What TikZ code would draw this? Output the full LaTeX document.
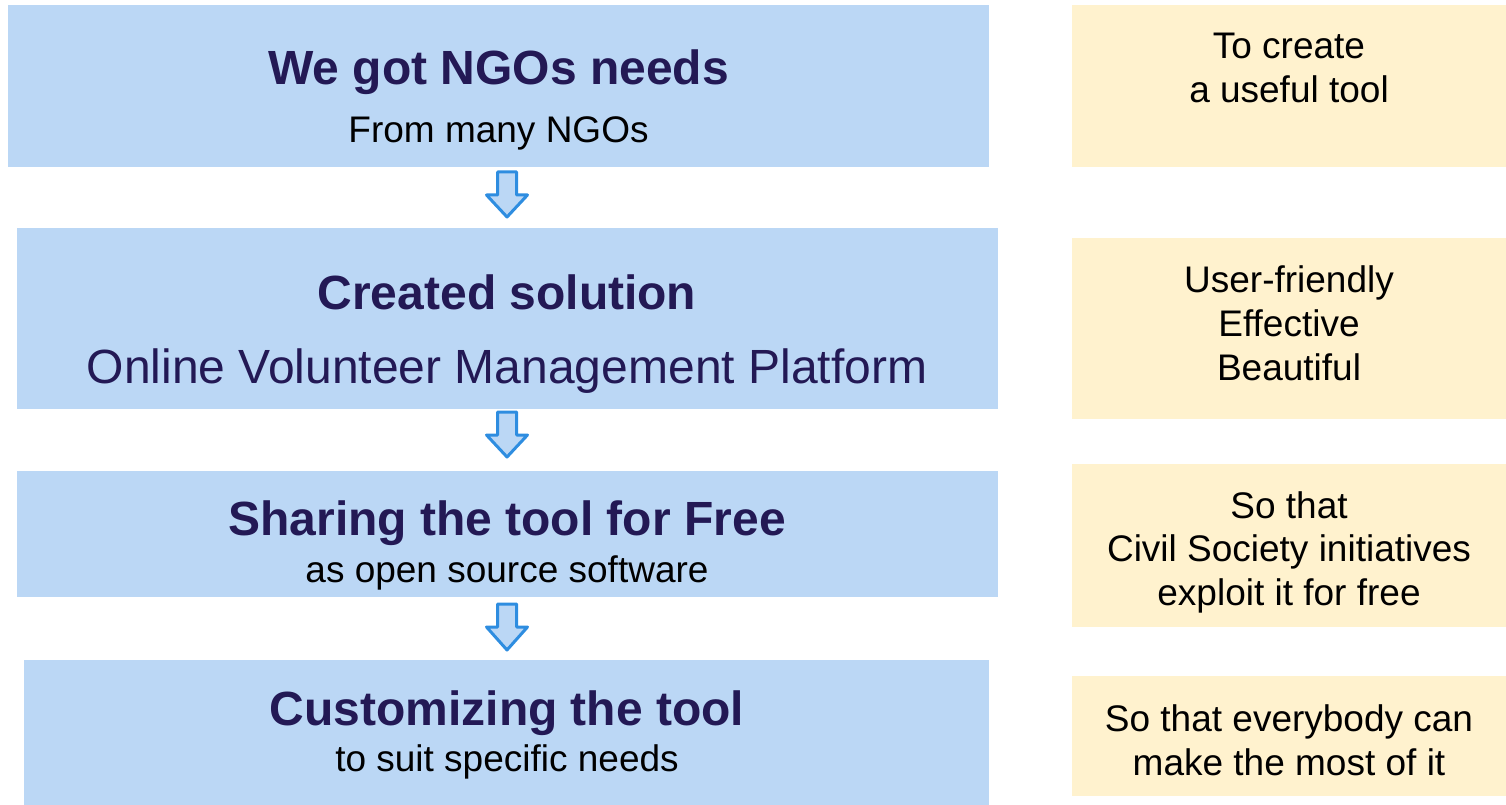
\documentclass[tikz,border=0pt]{standalone}
\usepackage{fontspec}
\setmainfont{Liberation Sans}
\usetikzlibrary{calc}
\definecolor{boxblue}{RGB}{187,215,245}
\definecolor{boxyellow}{RGB}{255,242,206}
\definecolor{navy}{RGB}{35,25,85}
\definecolor{arrowblue}{RGB}{46,141,224}
\tikzset{
  bluebox/.style={fill=boxblue, draw=none, inner sep=0pt, anchor=north west},
  yellowbox/.style={fill=boxyellow, draw=none, inner sep=0pt, anchor=north west},
  ttl/.style={anchor=base, inner sep=0pt, text=navy, font=\fontsize{48}{55}\selectfont\bfseries},
  bigsub/.style={anchor=base, inner sep=0pt, text=navy, font=\fontsize{48}{55}\selectfont},
  sub/.style={anchor=base, inner sep=0pt, text=black, font=\fontsize{37}{44}\selectfont},
  side/.style={anchor=base, inner sep=0pt, text=black, font=\fontsize{37}{44}\selectfont},
  blockarrow/.style={draw=arrowblue, fill=boxblue, line width=3pt, line join=round}
}
\newcommand{\downblock}[2]{% #1 = top coordinate name, #2 = tip coordinate name
  \draw[blockarrow] ($(#1)+(-9.5,0)$) -- ($(#1)+(9.5,0)$) -- ($(#1)+(9.5,23)$) -- ($(#1)+(20.5,23)$)
    -- (#2) -- ($(#1)+(-20.5,23)$) -- ($(#1)+(-9.5,23)$) -- cycle;}
\begin{document}
\begin{tikzpicture}[x=1pt,y=-1pt]
\useasboundingbox (0,0) rectangle (1506,805);
% left boxes
\node[bluebox, minimum width=981pt, minimum height=162pt] (b1) at (8,5) {};
\node[bluebox, minimum width=981pt, minimum height=181pt] (b2) at (17,228) {};
\node[bluebox, minimum width=981pt, minimum height=126pt] (b3) at (17,471) {};
\node[bluebox, minimum width=965pt, minimum height=145pt] (b4) at (24,660) {};
% right boxes
\node[yellowbox, minimum width=434pt, minimum height=162pt] (r1) at (1072,5) {};
\node[yellowbox, minimum width=434pt, minimum height=181pt] (r2) at (1072,238) {};
\node[yellowbox, minimum width=434pt, minimum height=163pt] (r3) at (1072,464) {};
\node[yellowbox, minimum width=434pt, minimum height=120pt] (r4) at (1072,676) {};
% left texts
\node[ttl] (t1) at (498.5,85) {We got NGOs needs};
\node[sub] (s1) at (498.5,143) {From many NGOs};
\node[ttl] (t2) at (507,309) {Created solution};
\node[bigsub] (s2) at (507,383) {Online Volunteer Management Platform};
\node[ttl] (t3) at (507,535) {Sharing the tool for Free};
\node[sub] (s3) at (507,582) {as open source software};
\node[ttl] (t4) at (507,725) {Customizing the tool};
\node[sub] (s4) at (507,771) {to suit specific needs};
% right texts
\node[side] (ra1) at (1289,59) {To create};
\node[side] (ra2) at (1289,103) {a useful tool};
\node[side] (rb1) at (1289,292) {User-friendly};
\node[side] (rb2) at (1289,336) {Effective};
\node[side] (rb3) at (1289,380) {Beautiful};
\node[side] (rc1) at (1289,518) {So that};
\node[side] (rc2) at (1289,561) {Civil Society initiatives};
\node[side] (rc3) at (1289,605) {exploit it for free};
\node[side] (rd1) at (1289,731) {So that everybody can};
\node[side] (rd2) at (1289,775) {make the most of it};
% arrows
\coordinate (a1) at (507,172); \coordinate (a1t) at (507,217);
\coordinate (a2) at (507,412); \coordinate (a2t) at (507,457);
\coordinate (a3) at (507,604); \coordinate (a3t) at (507,650);
\downblock{a1}{a1t}
\downblock{a2}{a2t}
\downblock{a3}{a3t}
\end{tikzpicture}
\end{document}
